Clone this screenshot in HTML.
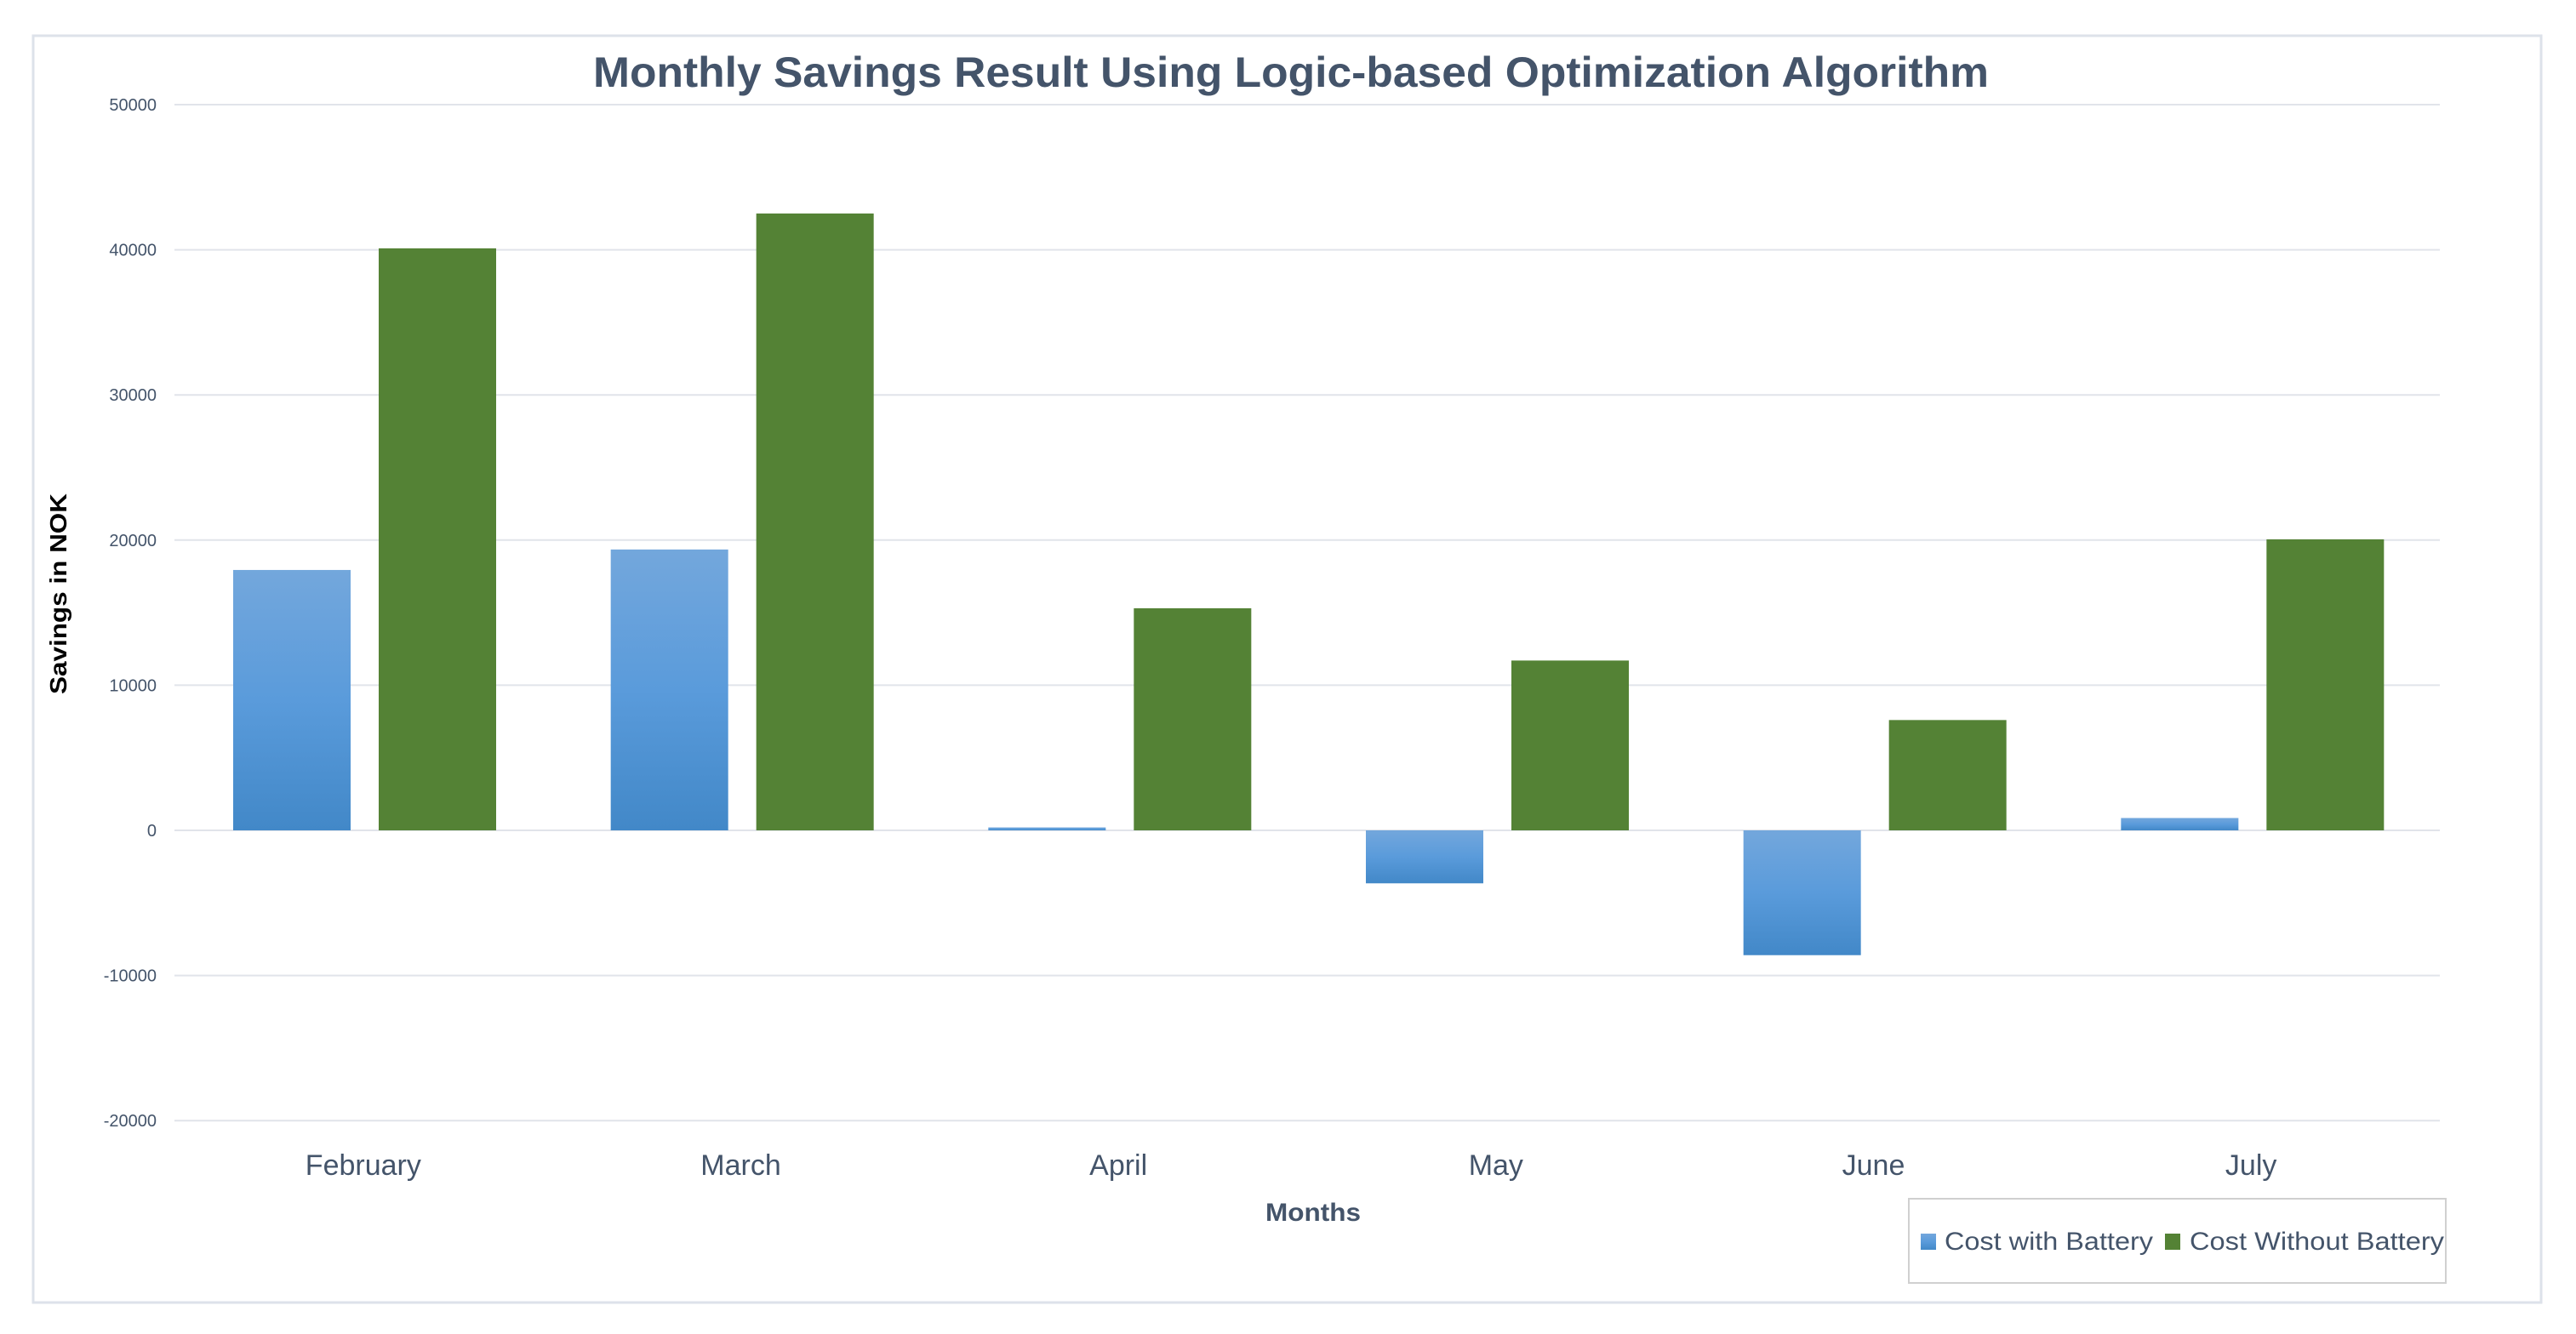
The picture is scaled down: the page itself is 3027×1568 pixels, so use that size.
<!DOCTYPE html>
<html><head><meta charset="utf-8"><style>
html,body{margin:0;padding:0;background:#fff;}
svg{display:block;}
text{font-family:"Liberation Sans",sans-serif;}
</style></head><body>
<svg id="chart" width="3027" height="1568" viewBox="0 0 3027 1568">
<defs>
<linearGradient id="blueGrad" x1="0" y1="0" x2="0" y2="1">
<stop offset="0" stop-color="#73a7dc"/><stop offset="0.5" stop-color="#5a9bdb"/><stop offset="1" stop-color="#4288c8"/>
</linearGradient>
</defs>
<rect x="39" y="42" width="2947" height="1489" fill="#fff" stroke="#dde2ea" stroke-width="3"/>
<text x="1517" y="102" text-anchor="middle" font-size="50" font-weight="bold" fill="#44546a" textLength="1640" lengthAdjust="spacingAndGlyphs">Monthly Savings Result Using Logic-based Optimization Algorithm</text>
<text transform="translate(78,698) rotate(-90)" text-anchor="middle" font-size="28" font-weight="bold" fill="#000" textLength="236" lengthAdjust="spacingAndGlyphs">Savings in NOK</text>
<text x="1543" y="1435" text-anchor="middle" font-size="30" font-weight="bold" fill="#44546a" textLength="112" lengthAdjust="spacingAndGlyphs">Months</text>
<g id="grid"></g>
<g id="bars"></g>
<g id="xlabels"></g>
<g>
<rect x="2243" y="1409" width="631" height="99" fill="#fff" stroke="#d0d0d0" stroke-width="2"/>
<rect x="2257" y="1450" width="18" height="19" fill="url(#blueGrad)"/>
<text x="2285" y="1469" font-size="30" fill="#44546a" textLength="245" lengthAdjust="spacingAndGlyphs">Cost with Battery</text>
<rect x="2544" y="1450" width="18" height="19" fill="#548235"/>
<text x="2573" y="1469" font-size="30" fill="#44546a" textLength="299" lengthAdjust="spacingAndGlyphs">Cost Without Battery</text>
</g>
</svg>
<script>
const months = ["February","March","April","May","June","July"];
const withBattery = [17940, 19350, 200, -3650, -8600, 850];
const withoutBattery = [40100, 42500, 15300, 11700, 7600, 20050];
const yTicks = [50000, 40000, 30000, 20000, 10000, 0, -10000, -20000];

const NS = "http://www.w3.org/2000/svg";
const plotLeft = 205, plotRight = 2867, zeroY = 976, pxPer = 170.6/10000;
const catW = (plotRight - plotLeft) / months.length;
const barW = 138, barOff = 69, barStep = 171;
function y(v){ return zeroY - v * pxPer; }
function x(i){ return plotLeft + i * catW; }
function mk(tag, attrs){ const e = document.createElementNS(NS, tag); for (const k in attrs) e.setAttribute(k, attrs[k]); return e; }

const grid = document.getElementById('grid');
yTicks.forEach(t => {
  const l = mk('line', {x1: plotLeft, x2: plotRight, y1: y(t), y2: y(t), stroke: '#e1e4ea', 'stroke-width': 2});
  
  
  grid.appendChild(l);
  const tx = mk('text', {x: 184, y: y(t) + 7, 'text-anchor': 'end', 'font-size': 20, fill: '#44546a'});
  tx.textContent = String(t);
  
  
  grid.appendChild(tx);
});

const bars = document.getElementById('bars');
const xl = document.getElementById('xlabels');
months.forEach((m, i) => {
  const v1 = withBattery[i], v2 = withoutBattery[i];
  const b1 = mk('rect', {x: x(i) + barOff, y: Math.min(y(v1), zeroY), width: barW, height: Math.abs(y(v1) - zeroY), fill: 'url(#blueGrad)'});
  
  
  bars.appendChild(b1);
  const b2 = mk('rect', {x: x(i) + barOff + barStep, y: Math.min(y(v2), zeroY), width: barW, height: Math.abs(y(v2) - zeroY), fill: '#548235'});
  
  
  bars.appendChild(b2);
  const t = mk('text', {x: x(i) + catW / 2, y: 1381, 'text-anchor': 'middle', 'font-size': 34, fill: '#44546a'});
  t.textContent = m;
  
  
  xl.appendChild(t);
});
</script>
</body></html>
